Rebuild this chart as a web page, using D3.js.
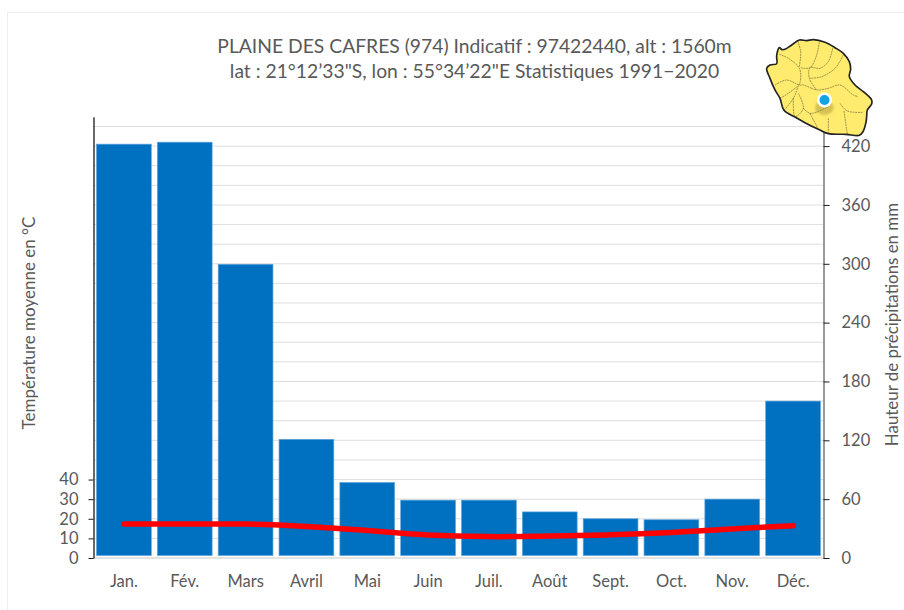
<!DOCTYPE html>
<html lang="fr">
  <head>
    <meta charset="utf-8" />
    <title>Plaine des Cafres</title>
    <script src="https://d3js.org/d3.v7.min.js"></script>
    <style>
      body { margin: 0; background-color: #fff; font-family: Lato, sans-serif; }
      text { fill: #595959; }
    </style>
  </head>
  <body>
    <div id="chart"></div>
    <script>
      const months = ["Jan.", "Fév.", "Mars", "Avril", "Mai", "Juin", "Juil.", "Août", "Sept.", "Oct.", "Nov.", "Déc."];
      const precipitation = [422, 424, 299.5, 121, 77, 59, 59, 47, 40, 39, 60, 160];
      const temperature = [17.3, 17.3, 17.3, 16.1, 14, 11.7, 10.9, 11.2, 11.8, 13, 14.8, 16.5];
      const tempTicks = [0, 10, 20, 30, 40];
      const precipTicks = [0, 60, 120, 180, 240, 300, 360, 420];
      const gridValues = d3.range(0, 460, 20);
      const titleLines = [
        "PLAINE DES CAFRES (974) Indicatif : 97422440, alt : 1560m",
        "lat : 21°12’33\"S, lon : 55°34’22\"E Statistiques 1991−2020",
      ];

      // outline and communes of the island (3x units)
      const islandOutline = [[20,100],[30,90],[50,86],[50,62],[58,38],[66,44],[75,43],[95,30],[118,15],[140,17],[160,14],[195,22],[225,38],[250,55],[268,80],[272,102],[268,125],[285,150],[310,170],[335,195],[335,207],[322,225],[320,245],[318,262],[308,292],[298,301],[258,298],[205,296],[175,283],[135,263],[105,246],[72,226],[60,190],[45,165],[30,130]];
      const islandBorders = [
        [[58,58],[85,70],[118,100],[122,130],[118,150]],
        [[113,18],[122,50],[118,95]],
        [[178,22],[170,60],[150,98],[120,98]],
        [[218,40],[205,80],[180,100],[150,98],[148,130],[170,165]],
        [[250,60],[225,100],[185,125],[148,130]],
        [[45,150],[80,135],[118,150],[130,150],[155,160]],
        [[60,190],[85,175],[115,152]],
        [[115,152],[100,190],[72,226]],
        [[100,190],[105,245],[130,220],[115,175]],
        [[155,160],[172,165],[205,160],[240,150],[280,180],[295,185]],
        [[240,205],[262,228],[310,232]],
        [[130,220],[150,235],[185,225],[205,215]],
        [[150,235],[175,283]],
        [[252,228],[262,298]],
        [[205,250],[205,296]],
      ];

      const margin = { top: 116.7, right: 80.5, bottom: 52, left: 93.5 },
        width = 904 - margin.left - margin.right,
        height = 610 - margin.top - margin.bottom;

      const svg = d3.select("#chart").append("svg").attr("width", 904).attr("height", 610);

      // faint frame of the original image
      svg.append("path")
        .attr("d", d3.line()([[7.5, 610], [7.5, 12.5], [904, 12.5]]))
        .attr("fill", "none")
        .attr("stroke", "#ededed");

      const x = d3.scaleBand().domain(months).range([margin.left, margin.left + width]).paddingInner(0.1).paddingOuter(0.05);
      const yPrecip = d3.scaleLinear().domain([0, 450]).range([margin.top + height, margin.top]);
      const yTemp = d3.scaleLinear().domain([0, 225]).range([margin.top + height, margin.top]);
      const baseline = margin.top + height;

      // Gridlines
      svg.append("g")
        .selectAll("line")
        .data(gridValues)
        .join("line")
        .attr("x1", margin.left)
        .attr("x2", margin.left + width)
        .attr("y1", (d) => yPrecip(d))
        .attr("y2", (d) => yPrecip(d))
        .attr("stroke", "#dedede");

      // Bars, they stop a little above the baseline in the original
      svg.append("g")
        .selectAll("rect")
        .data(precipitation)
        .join("rect")
        .attr("x", (d, i) => x(months[i]))
        .attr("y", (d) => yPrecip(d))
        .attr("width", x.bandwidth())
        .attr("height", (d) => baseline - yPrecip(d) - 2.5)
        .attr("fill", "#0070c0")
        .attr("stroke", "#5fa3da")
        .attr("stroke-width", 0.7);

      // Baseline under the bars
      svg.append("line")
        .attr("x1", margin.left)
        .attr("x2", margin.left + width)
        .attr("y1", baseline)
        .attr("y2", baseline)
        .attr("stroke", "#d9d9d9")
        .attr("stroke-width", 1.2);

      // Temperature
      svg.append("path")
        .datum(temperature)
        .attr("fill", "none")
        .attr("stroke", "#ff0000")
        .attr("stroke-width", 5.5)
        .attr("stroke-linecap", "round")
        .attr("d", d3.line()
          .x((d, i) => x(months[i]) + x.bandwidth() / 2)
          .y((d) => yTemp(d))
          .curve(d3.curveCatmullRom));

      // Axes
      const leftAxis = svg.append("g")
        .attr("transform", `translate(${margin.left},0)`)
        .call(d3.axisLeft(yTemp).tickValues(tempTicks).tickSizeInner(5).tickSizeOuter(0).tickPadding(10));
      const rightAxis = svg.append("g")
        .attr("transform", `translate(${margin.left + width},0)`)
        .call(d3.axisRight(yPrecip).tickValues(precipTicks).tickSizeInner(6).tickSizeOuter(0).tickPadding(12));
      const bottomAxis = svg.append("g")
        .attr("transform", `translate(0,${baseline})`)
        .call(d3.axisBottom(x).tickSize(0).tickPadding(17));
      bottomAxis.select(".domain").remove();

      [leftAxis, rightAxis, bottomAxis].forEach((a) => {
        a.selectAll("text").style("font-family", "Lato, sans-serif").style("font-size", "16.5px").style("fill", "#595959");
      });
      leftAxis.select(".domain").attr("stroke", "#1a1a1a").attr("stroke-width", 1.3);
      leftAxis.selectAll(".tick line").attr("stroke", "#1a1a1a");
      rightAxis.select(".domain").attr("stroke", "#6e6e6e").attr("stroke-width", 1.4);
      rightAxis.selectAll(".tick line").attr("stroke", "#1a1a1a");

      // Title
      svg.append("g")
        .selectAll("text")
        .data(titleLines)
        .join("text")
        .attr("x", 474.5)
        .attr("y", (d, i) => 52.5 + i * 25)
        .attr("text-anchor", "middle")
        .style("font-size", "19.3px")
        .text((d) => d);

      // Axis titles
      svg.append("text")
        .attr("transform", "translate(35,323) rotate(-90)")
        .attr("text-anchor", "middle")
        .style("font-size", "17px")
        .text("Température moyenne en °C");
      svg.append("text")
        .attr("transform", "translate(898,324.5) rotate(-90)")
        .attr("text-anchor", "middle")
        .style("font-size", "16.9px")
        .text("Hauteur de précipitations en mm");

      // Map of the island with the station marker
      const defs = svg.append("defs");
      defs.append("filter").attr("id", "blur").append("feGaussianBlur").attr("stdDeviation", 3);

      const island = svg.append("g").attr("transform", "translate(760,35) scale(0.3333)");
      island.append("path")
        .attr("d", d3.line().curve(d3.curveCatmullRomClosed)(islandOutline))
        .attr("fill", "#ffec6e")
        .attr("stroke", "#222")
        .attr("stroke-width", 5);
      island.append("g")
        .selectAll("path")
        .data(islandBorders)
        .join("path")
        .attr("d", d3.line().curve(d3.curveCatmullRom))
        .attr("fill", "none")
        .attr("stroke", "#4a4530")
        .attr("stroke-width", 1.6)
        .attr("stroke-dasharray", "6 2");
      island.append("ellipse")
        .attr("cx", 193).attr("cy", 218).attr("rx", 28).attr("ry", 22)
        .attr("fill", "#a89a3a").attr("opacity", 0.5)
        .attr("filter", "url(#blur)");

      const marker = svg.append("g").attr("transform", "translate(824.5,100)");
      marker.append("circle").attr("r", 7.5).attr("fill", "#fff");
      marker.append("circle").attr("r", 5).attr("fill", "#0ea5e6");
    </script>
  </body>
</html>
